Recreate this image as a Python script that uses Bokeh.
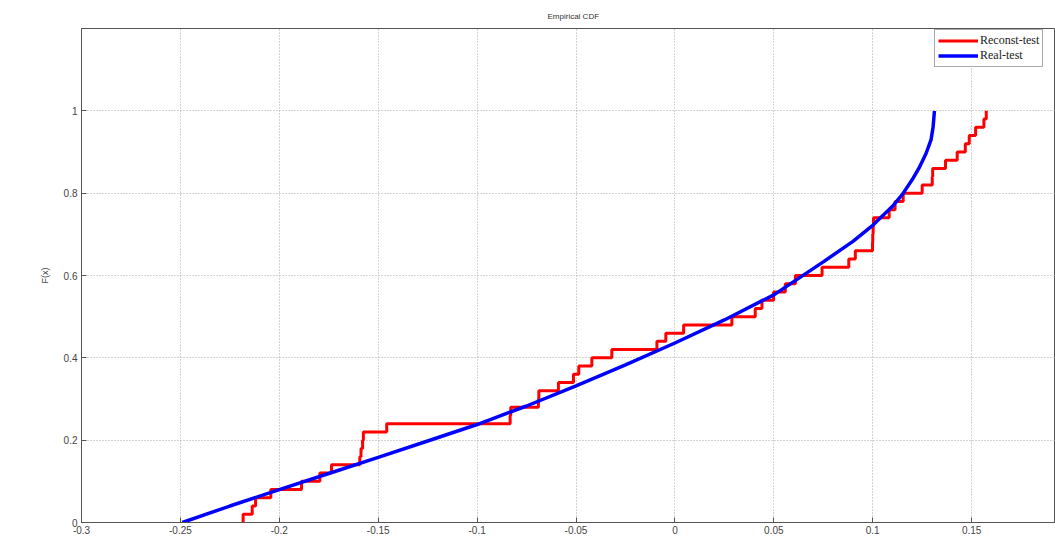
from bokeh.plotting import figure
from bokeh.models import FixedTicker, Range1d, Legend, LegendItem
from bokeh.embed import file_html
from bokeh.resources import INLINE

# --- data -------------------------------------------------------------
# Reconst-test: empirical CDF jump locations and levels after each jump
red_x = [-0.2183, -0.2137, -0.2120, -0.2043, -0.1888, -0.1795, -0.1736, -0.1593,
         -0.1587, -0.1579, -0.1575, -0.1457, -0.0833, -0.0830, -0.0690, -0.0688,
         -0.0589, -0.0513, -0.0486, -0.0420, -0.0319, -0.0091, -0.0046, 0.0044,
         0.0288, 0.0406, 0.0440, 0.0499, 0.0558, 0.0609, 0.0744, 0.0879,
         0.0912, 0.0999, 0.1000, 0.1002, 0.1004, 0.1083, 0.1113, 0.1154,
         0.1250, 0.1301, 0.1303, 0.1368, 0.1427, 0.1468, 0.1488, 0.1520,
         0.1562, 0.1574]
red_y = [0.02, 0.04, 0.06, 0.08, 0.10, 0.12, 0.14, 0.16, 0.18, 0.20,
         0.22, 0.24, 0.26, 0.28, 0.30, 0.32, 0.34, 0.36, 0.38, 0.40,
         0.42, 0.44, 0.46, 0.48, 0.50, 0.52, 0.54, 0.56, 0.58, 0.60,
         0.62, 0.64, 0.66, 0.68, 0.70, 0.72, 0.74, 0.76, 0.78, 0.80,
         0.82, 0.84, 0.86, 0.88, 0.90, 0.92, 0.94, 0.96, 0.98, 1.00]

# Real-test: smooth CDF
blue_x = [-0.249, -0.225, -0.2, -0.175, -0.15, -0.125, -0.1, -0.075, -0.05, -0.025,
          0.0, 0.025, 0.05, 0.075, 0.09, 0.1, 0.11, 0.115, 0.12, 0.1235,
          0.127, 0.1295, 0.1305, 0.1312]
blue_y = [0.0, 0.04, 0.08, 0.119, 0.158, 0.198, 0.238, 0.283, 0.332, 0.383,
          0.436, 0.492, 0.553, 0.633, 0.683, 0.722, 0.768, 0.797, 0.833, 0.862,
          0.897, 0.93, 0.96, 1.0]

x_ticks = [-0.3, -0.25, -0.2, -0.15, -0.1, -0.05, 0, 0.05, 0.1, 0.15, 0.2]
x_tick_labels = {-0.3: "-0.3", -0.25: "-0.25", -0.2: "-0.2", -0.15: "-0.15", -0.1: "-0.1",
                 -0.05: "-0.05", 0: "0", 0.05: "0.05", 0.1: "0.1", 0.15: "0.15", 0.2: "0.2"}
y_ticks = [0, 0.2, 0.4, 0.6, 0.8, 1]
y_tick_labels = {0: "0", 0.2: "0.2", 0.4: "0.4", 0.6: "0.6", 0.8: "0.8", 1: "1"}

# --- figure -----------------------------------------------------------
p = figure(width=1055, height=538, output_backend="svg", toolbar_location=None,
           x_range=Range1d(-0.3, 0.1924), y_range=Range1d(0, 1.2),
           min_border_left=81, min_border_right=0, min_border_bottom=16,
           min_border_top=28)
p.title.text = "Empirical CDF"
p.title.align = "left"
p.title.offset = 466
p.title.text_font = "Liberation Sans"
p.title.text_font_size = "8px"
p.title.text_font_style = "normal"
p.title.text_color = "#333333"
p.title.standoff = 16

p.outline_line_color = "#555555"
p.outline_line_width = 1
p.background_fill_color = "white"
p.border_fill_color = "white"

for ax, ticks, labels in ((p.xaxis[0], x_ticks, x_tick_labels), (p.yaxis[0], y_ticks, y_tick_labels)):
    ax.ticker = FixedTicker(ticks=ticks)
    ax.major_label_overrides = labels
    ax.major_tick_in = 5
    ax.major_tick_out = 0
    ax.minor_tick_line_color = None
    ax.axis_line_color = "#555555"
    ax.major_tick_line_color = "#555555"
    ax.major_label_text_font = "Liberation Sans"
    ax.major_label_text_font_size = "10px"
    ax.major_label_text_color = "#444444"
p.xaxis[0].major_label_standoff = 3
p.yaxis[0].major_label_standoff = 4

p.yaxis[0].axis_label = "F(x)"
p.yaxis[0].axis_label_text_font = "Liberation Sans"
p.yaxis[0].axis_label_text_font_size = "9px"
p.yaxis[0].axis_label_text_font_style = "normal"
p.yaxis[0].axis_label_text_color = "#444444"
p.yaxis[0].axis_label_standoff = 11

p.xgrid[0].ticker = FixedTicker(ticks=x_ticks)
p.ygrid[0].ticker = FixedTicker(ticks=y_ticks)
for g in (p.xgrid[0], p.ygrid[0]):
    g.grid_line_color = "#a8a8a8"
    g.grid_line_dash = "1 2"
    g.grid_line_width = 1

red_sx = [red_x[0]] + red_x
red_sy = [0.0] + red_y
r_red = p.step(red_sx, red_sy, mode="after", line_color="#ff0000", line_width=3)
r_blue = p.line(blue_x, blue_y, line_color="#0000ff", line_width=3.5)

legend = Legend(items=[LegendItem(label="Reconst-test", renderers=[r_red]),
                       LegendItem(label="Real-test", renderers=[r_blue])],
                location=(853, 455))
legend.label_text_font = "Liberation Serif"
legend.label_text_font_size = "12px"
legend.label_text_color = "#222222"
legend.glyph_width = 40
legend.glyph_height = 15
legend.label_height = 15
legend.label_standoff = 2
legend.spacing = 0
legend.padding = 3
legend.margin = 0
legend.border_line_color = "#555555"
legend.border_line_width = 1
legend.background_fill_color = "white"
legend.background_fill_alpha = 1.0
p.add_layout(legend, "center")

open("out.html", "w").write(file_html(p, INLINE))
